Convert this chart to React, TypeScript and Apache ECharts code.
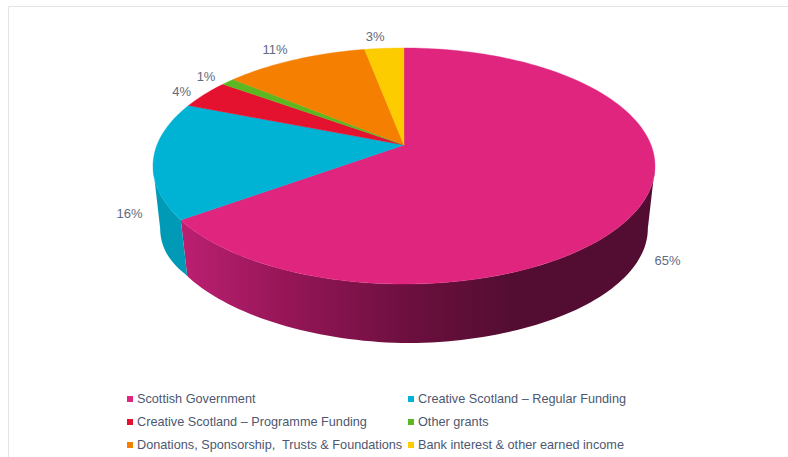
import React, { useEffect, useRef } from "react";
import * as echarts from "echarts";

const categories = [
  "Scottish Government",
  "Creative Scotland – Regular Funding",
  "Creative Scotland – Programme Funding",
  "Other grants",
  "Donations, Sponsorship,  Trusts & Foundations",
  "Bank interest & other earned income",
];
const shares = [65, 16, 4, 1, 11, 3];
const colors = ["#E0257F", "#00B2D3", "#E5122F", "#5CB821", "#F57F00", "#FCCB00"];
const leftLegend = [categories[0], categories[2], categories[4]];
const rightLegend = [categories[1], categories[3], categories[5]];
// label nudges from the rim point of each slice (px)
const labelNudgeX = [31, -31, -23, -22, -20, -9];
const labelNudgeY = [-2, -9, -3, -5, -10, -12];

// Perspective of the disc
const CX = 404;
const APEX_Y = 145;
const A = 114.3;
const B = 247;
const C = 0.178;
const VANISH_Y = 2350;
const SHRINK = 0.9714;
// Angles between which the disc's side faces the viewer
const SIDE_FROM = 100.3;
const SIDE_TO = 259.7;

function top(deg: number): number[] {
  const r = (deg * Math.PI) / 180;
  const u = Math.sin(r);
  const v = Math.cos(r);
  const d = 1 + C * v;
  return [CX + (B * u) / d, APEX_Y - (A * v) / d];
}
function base(p: number[]): number[] {
  // the reference's lower rim sits slightly higher on its left half
  const t = Math.max(0, (CX - p[0]) / 251);
  const lift = t < 0.9 ? (5 * t) / 0.9 : 5 * (1 - t) * 10;
  return [
    CX + (p[0] - CX) * SHRINK,
    VANISH_Y - (VANISH_Y - p[1]) * SHRINK - lift,
  ];
}
function arcPts(a0: number, a1: number): number[][] {
  const n = Math.max(2, Math.ceil((a1 - a0) / 1.5));
  const out: number[][] = [];
  for (let i = 0; i <= n; i++) out.push(top(a0 + ((a1 - a0) * i) / n));
  return out;
}

let acc = 0;
const ranges = shares.map((s) => {
  const r = [acc, acc + s];
  acc += s;
  return r;
});

function wallFill(i: number): any {
  if (i === 0) {
    return new echarts.graphic.LinearGradient(
      186,
      0,
      510,
      0,
      [
        { offset: 0, color: "#BA1F70" },
        { offset: 0.3, color: "#971658" },
        { offset: 0.7, color: "#6B0F3E" },
        { offset: 1, color: "#540D32" },
      ],
      true
    );
  }
  return "#0099B6";
}

function makeSeries(i: number) {
  return {
    type: "custom",
    name: categories[i],
    coordinateSystem: "none",
    silent: true,
    itemStyle: { color: colors[i] },
    data: [{ value: [ranges[i][0], ranges[i][1], shares[i]] }],
    renderItem: (_p: any, api: any) => {
      const a0 = (api.value(0) * 360) / 100;
      const a1 = (api.value(1) * 360) / 100;
      const rim = arcPts(a0, a1);
      const mid = top((a0 + a1) / 2);
      const anchor = i < 2 ? base(mid) : mid;
      const children: any[] = [
        {
          type: "polygon",
          z2: 2,
          shape: { points: [[CX, APEX_Y], ...rim] },
          style: { fill: colors[i], stroke: colors[i], lineWidth: 0.4 },
        },
        {
          type: "text",
          z2: 3,
          x: anchor[0] + labelNudgeX[i],
          y: anchor[1] + labelNudgeY[i],
          style: {
            text: api.value(2) + "%",
            fill: "#5F6B80",
            font: '13px "Liberation Sans", sans-serif',
            align: "center",
            verticalAlign: "middle",
          },
        },
      ];
      const w0 = Math.max(a0, SIDE_FROM);
      const w1 = Math.min(a1, SIDE_TO);
      if (w1 > w0) {
        const wr = arcPts(w0, w1);
        children.push({
          type: "polygon",
          z2: 1,
          shape: { points: wr.concat(wr.map(base).reverse()) },
          style: { fill: wallFill(i) },
        });
      }
      return { type: "group", children };
    },
  };
}

const legendBase = {
  orient: "vertical",
  icon: "rect",
  itemWidth: 6,
  itemHeight: 6,
  itemGap: 9,
  padding: 0,
  selectedMode: false,
  textStyle: {
    color: "#4D5870",
    fontFamily: '"Liberation Sans", sans-serif',
    fontSize: 12.7,
    lineHeight: 14,
    padding: [0, 0, 0, -1],
  },
};

export default function App() {
  const ref = useRef<HTMLDivElement>(null);
  useEffect(() => {
    document.body.style.margin = "0";
    const chart = echarts.init(ref.current!, null, { renderer: "svg" });
    chart.setOption({
      animation: false,
      backgroundColor: "#FFFFFF",
      legend: [
        { ...legendBase, left: 127, top: 392, data: leftLegend },
        { ...legendBase, left: 408, top: 392, data: rightLegend },
      ],
      graphic: [
        {
          type: "polyline",
          shape: { points: [[8.5, 457], [8.5, 6.5], [788, 6.5]] },
          style: { stroke: "#E1E5EA", lineWidth: 1, fill: "none" },
        },
      ],
      series: categories.map((_, i) => makeSeries(i)),
    });
    return () => chart.dispose();
  }, []);
  return (
    <div
      ref={ref}
      style={{ position: "absolute", left: 0, top: 0, width: 788, height: 457 }}
    />
  );
}
